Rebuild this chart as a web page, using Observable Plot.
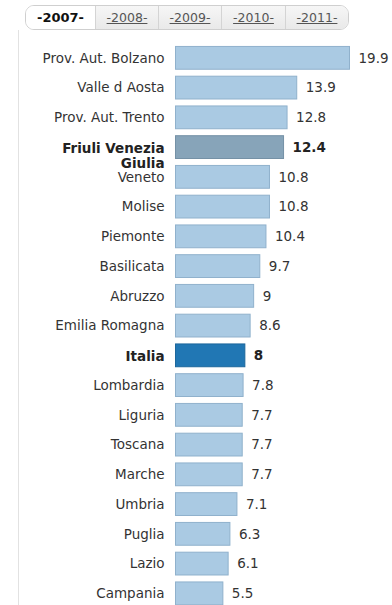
<!DOCTYPE html>
<html>
<head>
<meta charset="utf-8">
<script src="https://cdn.jsdelivr.net/npm/d3@7"></script>
<script src="https://cdn.jsdelivr.net/npm/@observablehq/plot@0.6"></script>
<style>
  html, body { margin: 0; padding: 0; background: #fff; overflow: hidden; }
  body { width: 392px; height: 605px; position: relative; font-family: "DejaVu Sans", Verdana, sans-serif; }
  #rule { position: absolute; left: 18px; top: 30px; width: 1px; height: 600px; background: #e2e2e2; }
  #tabs { position: absolute; left: 25px; top: 5px; height: 23px; border: 1px solid #cfcfcf; border-radius: 9px; overflow: hidden; display: flex; }
  #tabs div { height: 23px; line-height: 23px; text-align: center; font-size: 12.5px; color: #555; text-decoration: underline; background: linear-gradient(#f6f6f6, #e9e9e9); border-left: 1px solid #d4d4d4; box-sizing: border-box; }
  #tabs div.active { background: #fff; color: #111; font-weight: bold; text-decoration: none; border-left: none; font-size: 13px; }
  #chart { position: absolute; left: 0; top: 36px; }
</style>
</head>
<body>
<div id="rule"></div>
<div id="tabs"></div>
<div id="chart"></div>
<script>
const years = ["2007", "2008", "2009", "2010", "2011"];
const activeYear = "2007";
const regions = ["Prov. Aut. Bolzano", "Valle d Aosta", "Prov. Aut. Trento", "Friuli Venezia Giulia", "Veneto", "Molise", "Piemonte", "Basilicata", "Abruzzo", "Emilia Romagna", "Italia", "Lombardia", "Liguria", "Toscana", "Marche", "Umbria", "Puglia", "Lazio", "Campania"];
const values = [19.9, 13.9, 12.8, 12.4, 10.8, 10.8, 10.4, 9.7, 9, 8.6, 8, 7.8, 7.7, 7.7, 7.7, 7.1, 6.3, 6.1, 5.5];
const highlighted = ["Friuli Venezia Giulia"];
const national = "Italia";

// tabs
const tabWidths = [69, 63, 63, 64, 63];
const tabs = document.getElementById("tabs");
years.forEach((y, i) => {
  const d = document.createElement("div");
  d.textContent = "-" + y + "-";
  d.style.width = tabWidths[i] + "px";
  if (y === activeYear) d.className = "active";
  tabs.appendChild(d);
});

const data = regions.map((r, i) => ({region: r, value: values[i]}));
const kind = d => d.region === national ? "national" : highlighted.includes(d.region) ? "highlight" : "normal";
const fills = {normal: "#aacae3", highlight: "#87a4b9", national: "#2177b4"};
const strokes = {normal: "#90b1cc", highlight: "#7591a6", national: "#1d679c"};
const isBold = d => kind(d) !== "normal";
const labelText = d => d.region === "Friuli Venezia Giulia" ? "Friuli Venezia\nGiulia" : d.region;

const step = 29.75;
const pad = 0.2;
const rangeLen = (regions.length + pad) * step;
const marginTop = 4;
const fs = 13.5;

const chart = Plot.plot({
  width: 392,
  height: marginTop + rangeLen + 10,
  marginTop,
  marginBottom: 10,
  marginLeft: 175,
  marginRight: 42,
  style: {fontFamily: "DejaVu Sans, Verdana, sans-serif", fontSize: fs + "px", color: "#333"},
  x: {domain: [0, 19.9], axis: null},
  y: {domain: regions, padding: pad, round: false, axis: null},
  marks: [
    Plot.barX(data, {
      y: "region", x: "value",
      fill: d => fills[kind(d)],
      stroke: d => strokes[kind(d)],
      strokeWidth: 1,
      inset: 0.5
    }),
    Plot.text(data.filter(d => !isBold(d)), {
      y: "region", text: "region", frameAnchor: "left", textAnchor: "end", dx: -11,
      fill: "#333", fontSize: fs
    }),
    Plot.text(data.filter(isBold), {
      y: "region", text: labelText, frameAnchor: "left", textAnchor: "end", dx: -11,
      lineAnchor: "top", dy: -5.3, lineHeight: 1.12,
      fill: "#222", fontSize: fs, fontWeight: "bold"
    }),
    Plot.text(data.filter(d => !isBold(d)), {
      y: "region", x: "value", text: d => String(d.value), textAnchor: "start", dx: 8,
      fill: "#333", fontSize: fs
    }),
    Plot.text(data.filter(isBold), {
      y: "region", x: "value", text: d => String(d.value), textAnchor: "start", dx: 8,
      fill: "#222", fontSize: fs, fontWeight: "bold"
    })
  ]
});
document.getElementById("chart").appendChild(chart);
</script>
</body>
</html>
